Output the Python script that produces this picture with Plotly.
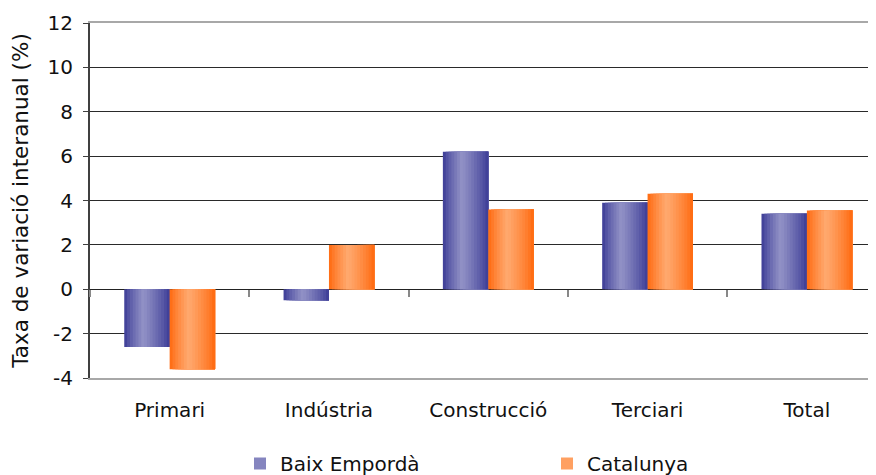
import plotly.graph_objects as go

categories = ["Primari", "Indústria", "Construcció", "Terciari", "Total"]
baix_emporda = [-2.6, -0.5, 6.2, 3.9, 3.4]
catalunya = [-3.6, 2.0, 3.6, 4.3, 3.55]
series_names = ["Baix Empordà", "Catalunya"]
y_ticks = [-4, -2, 0, 2, 4, 6, 8, 10, 12]
y_tick_text = ["-4", "-2", "0", "2", "4", "6", "8", "10", "12"]

FONT = "DejaVu Sans"
BAR_W = 0.285
N_STRIPS = 16

def mix(c1, c2, f):
    return "rgb({},{},{})".format(*[round(a + (b - a) * f) for a, b in zip(c1, c2)])

def profile(t, peak=0.42):
    if t <= peak:
        f = t / peak
    else:
        f = 1 - (t - peak) / (1 - peak)
    return max(0.0, min(1.0, f)) ** 0.8

styles = [
    dict(dark=(56, 56, 148), light=(146, 146, 198), offset=-BAR_W, xaxis="x"),
    dict(dark=(255, 102, 10), light=(255, 170, 112), offset=0.0, xaxis="x2"),
]

fig = go.Figure()
for name, values, st in zip(series_names, [baix_emporda, catalunya], styles):
    sw = BAR_W / N_STRIPS
    for i in range(N_STRIPS):
        t = (i + 0.5) / N_STRIPS
        fig.add_trace(go.Bar(
            x=categories, y=values, name=name,
            offset=st["offset"] + i * sw, width=BAR_W - i * sw,
            marker=dict(color=mix(st["dark"], st["light"], profile(t)), line=dict(width=0)),
            showlegend=(i == N_STRIPS // 3), legendgroup=name, xaxis=st["xaxis"],
            hoverinfo="skip" if i else None,
        ))

fig.update_layout(
    width=876, height=475,
    margin=dict(l=82, r=0, t=15, b=105, autoexpand=False),
    paper_bgcolor="white", plot_bgcolor="white",
    barmode="overlay",
    font=dict(family=FONT, size=20, color="#111111"),
    showlegend=True,
    legend=dict(orientation="h", xref="container", yref="container", x=232 / 876, y=0.0,
                xanchor="left", yanchor="bottom", entrywidth=262, entrywidthmode="pixels",
                font=dict(size=20, family=FONT), itemclick=False, itemdoubleclick=False,
                traceorder="normal"),
    xaxis=dict(type="category", categoryorder="array", categoryarray=categories,
               range=[-0.5, 4.484], showgrid=False, ticks="", showline=True, mirror=True,
               linecolor="#a8a8a8", linewidth=2, tickfont=dict(size=20), ticklabelstandoff=13),
    xaxis2=dict(type="category", categoryorder="array", categoryarray=categories,
                matches="x", overlaying="x", anchor="free", position=0.25,
                showticklabels=False, showgrid=False, showline=False,
                ticks="outside", tickson="boundaries", ticklen=7, tickcolor="#888888", tickwidth=2),
    yaxis=dict(range=[-4, 12], tickvals=y_ticks, ticktext=y_tick_text,
               showgrid=True, gridcolor="#2a2a2a", gridwidth=1,
               zeroline=True, zerolinecolor="#222222", zerolinewidth=1,
               showline=True, linecolor="#404040", linewidth=2,
               ticks="outside", ticklen=5, tickcolor="#404040", ticklabelstandoff=6,
               tickfont=dict(size=20), automargin=False,
               title=dict(text="Taxa de variació interanual (%)", font=dict(size=21.5), standoff=14)),
)

fig.write_html("out.html")
